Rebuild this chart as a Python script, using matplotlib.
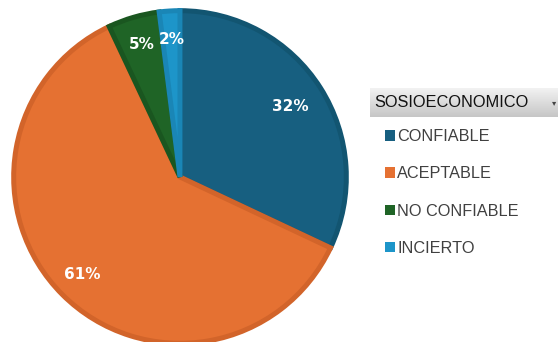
import matplotlib
matplotlib.use("Agg")
import matplotlib.pyplot as plt
import numpy as np

categories = ["CONFIABLE", "ACEPTABLE", "NO CONFIABLE", "INCIERTO"]
values = [32, 61, 5, 2]
legend_title = "SOSIOECONOMICO"

face_colors = ["#175f80", "#e57132", "#1f6426", "#1d95c9"]
edge_colors = ["#125571", "#d2642a", "#1a5620", "#1a86b6"]

W, H = 558, 342
fig = plt.figure(figsize=(W / 100, H / 100), dpi=100)
fig.patch.set_facecolor("white")

cx, cy, r = 180, 177, 168
ax = fig.add_axes([(cx - r) / W, (H - cy - r) / H, 2 * r / W, 2 * r / H])
wedges, texts, autotexts = ax.pie(
    values, colors=face_colors, startangle=90, counterclock=False,
    autopct=lambda p: f"{p:.0f}%", pctdistance=0.83, radius=0.99,
    wedgeprops=dict(linewidth=3.6, joinstyle="miter"),
    textprops=dict(color="white", fontsize=11, fontweight="bold",
                   family="DejaVu Sans"))
for w, ec in zip(wedges, edge_colors):
    w.set_edgecolor(ec)
autotexts[0].set_position(np.array(autotexts[0].get_position()) * 0.95)
ax.set_xlim(-1, 1)
ax.set_ylim(-1, 1)
ax.set_aspect("equal")
ax.axis("off")

# legend header with gradient
hx0, hx1, hy0, hy1 = 370, 558, 88, 117
hax = fig.add_axes([hx0 / W, (H - hy1) / H, (hx1 - hx0) / W, (hy1 - hy0) / H])
grad = np.linspace(0, 1, 64).reshape(-1, 1)
hax.imshow(grad, aspect="auto", cmap=matplotlib.colors.LinearSegmentedColormap.from_list(
    "g", ["#f2f2f2", "#c6c6c6"]), extent=[0, 1, 0, 1], origin="upper")
hax.axis("off")
fig.text(374 / W, (H - (hy0 + hy1) / 2) / H, legend_title,
         fontsize=11.8, color="#111111", va="center", ha="left",
         family="Liberation Sans")
fig.text(554 / W, (H - (hy0 + hy1) / 2) / H, "\u25BE", fontsize=6,
         color="#444444", va="center", ha="center", family="DejaVu Sans")

leg = fig.legend(wedges, categories, loc="upper left",
                 bbox_to_anchor=(385 / W, (H - 129) / H),
                 frameon=False, handlelength=0.62, handleheight=0.62,
                 handletextpad=0.12, labelspacing=1.37, borderpad=0,
                 borderaxespad=0,
                 prop=dict(family="Liberation Sans", size=11.7))
for t in leg.get_texts():
    t.set_color("#404040")
for h in leg.legend_handles:
    h.set_linewidth(0)

fig.savefig("out.png", dpi=100, facecolor="white")
